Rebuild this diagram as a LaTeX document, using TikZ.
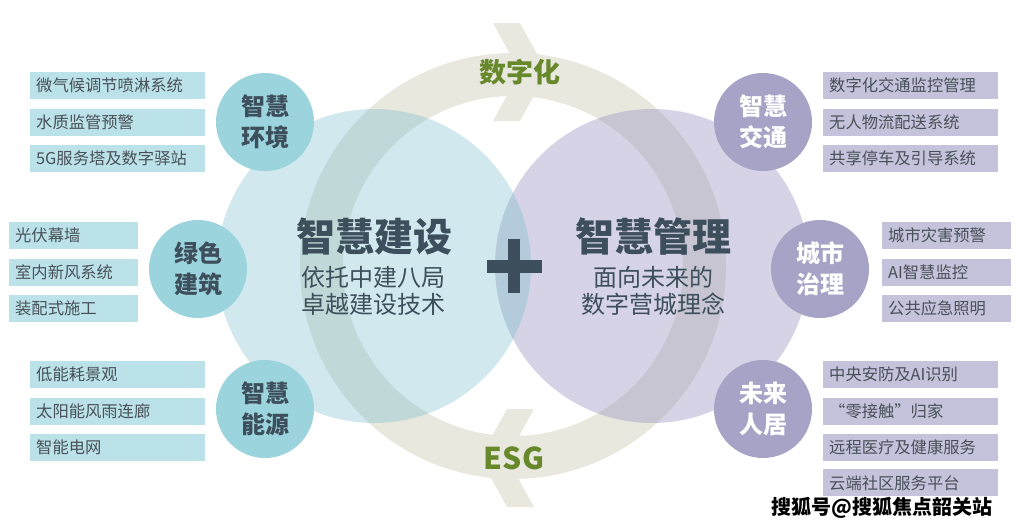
\documentclass[tikz,border=0pt]{standalone}
\usepackage{fontspec}
\setmainfont{Noto Sans CJK SC}
\usetikzlibrary{positioning}
\definecolor{ringbeige}{RGB}{232,232,222}
\definecolor{tealbig}{RGB}{120,190,205}
\definecolor{purplebig}{RGB}{150,145,190}
\definecolor{tealdot}{RGB}{156,212,222}
\definecolor{purpledot}{RGB}{166,163,198}
\definecolor{tealbox}{RGB}{187,226,232}
\definecolor{purplebox}{RGB}{197,195,219}
\definecolor{slate}{RGB}{61,79,92}
\definecolor{itemgray}{RGB}{72,80,88}
\definecolor{leafgreen}{RGB}{104,136,44}

\tikzset{
    topic/.style={circle, minimum size=98pt, inner sep=0pt, align=center,
        font=\fontsize{24}{31}\selectfont\bfseries},
    item/.style={anchor=north west, inner xsep=6pt, inner ysep=0pt, minimum height=27pt,
        align=left, text=itemgray, font=\fontsize{16.3}{18}\selectfont},
    longitem/.style={item, text width=163pt},
    shortitem/.style={item, text width=117pt}
}

\begin{document}
\begin{tikzpicture}[x=1pt, y=-1pt]
    \useasboundingbox (0,0) rectangle (1016,530);

    % cycle ring with two arrow heads
    \fill[ringbeige, even odd rule] (513,266) circle[radius=213] (513,266) circle[radius=170];
    \fill[ringbeige] (493,23) -- (520,23) -- (547,72) -- (520,121) -- (493,121) -- (520,72) -- cycle;
    \fill[ringbeige] (507,409) -- (534,409) -- (507,458) -- (534,507) -- (507,507) -- (480,458) -- cycle;

    % two big circles
    \fill[purplebig, fill opacity=0.4] (652,266) circle[radius=157];
    \fill[tealbig, fill opacity=0.35] (374,266) circle[radius=157];

    \node[text=leafgreen, font=\fontsize{27}{30}\selectfont\bfseries] (digital) at (520,72) {数字化};
    \node[text=leafgreen, font=\fontsize{30}{32}\selectfont\bfseries] (esg) at (514,458) {ESG};

    \node[text=slate, font=\fontsize{39}{44}\selectfont\bfseries] (build) at (374,237) {智慧建设};
    \node[text=slate, align=center, font=\fontsize{24}{27}\selectfont] (buildsub) at (373,291) {依托中建八局\\卓越建设技术};
    \node[text=slate, font=\fontsize{39}{44}\selectfont\bfseries] (manage) at (653,237) {智慧管理};
    \node[text=slate, align=center, font=\fontsize{24}{27}\selectfont] (managesub) at (653,291) {面向未来的\\数字营城理念};

    % plus
    \fill[slate] (487,260) rectangle (542,273);
    \fill[slate] (508,239) rectangle (520,293);

    % left topics
    \node[topic, fill=tealdot, text=slate] (env) at (265,122) {智慧\\环境};
    \node[topic, fill=tealdot, text=slate] (green) at (198,269) {绿色\\建筑};
    \node[topic, fill=tealdot, text=slate] (energy) at (265,409) {智慧\\能源};

    % right topics
    \node[topic, fill=purpledot, text=white] (traffic) at (763,122) {智慧\\交通};
    \node[topic, fill=purpledot, text=white] (govern) at (820,269) {城市\\治理};
    \node[topic, fill=purpledot, text=white] (living) at (763,409) {未来\\人居};

    % left items
    \node[longitem, fill=tealbox] (env1) at (30,72) {微气候调节喷淋系统};
    \node[longitem, fill=tealbox, below=9pt of env1] (env2) {水质监管预警};
    \node[longitem, fill=tealbox, below=9pt of env2] (env3) {5G服务塔及数字驿站};

    \node[shortitem, fill=tealbox] (green1) at (9,222) {光伏幕墙};
    \node[shortitem, fill=tealbox, below=9pt of green1] (green2) {室内新风系统};
    \node[shortitem, fill=tealbox, below=9pt of green2] (green3) {装配式施工};

    \node[longitem, fill=tealbox] (energy1) at (30,361) {低能耗景观};
    \node[longitem, fill=tealbox, below=9pt of energy1] (energy2) {太阳能风雨连廊};
    \node[longitem, fill=tealbox, below=9pt of energy2] (energy3) {智能电网};

    % right items
    \node[longitem, fill=purplebox] (traffic1) at (823,72) {数字化交通监控管理};
    \node[longitem, fill=purplebox, below=9pt of traffic1] (traffic2) {无人物流配送系统};
    \node[longitem, fill=purplebox, below=9pt of traffic2] (traffic3) {共享停车及引导系统};

    \node[shortitem, fill=purplebox] (govern1) at (882,222) {城市灾害预警};
    \node[shortitem, fill=purplebox, below=9pt of govern1] (govern2) {AI智慧监控};
    \node[shortitem, fill=purplebox, below=9pt of govern2] (govern3) {公共应急照明};

    \node[longitem, fill=purplebox] (living1) at (823,361) {中央安防及AI识别};
    \node[longitem, fill=purplebox, below=9pt of living1] (living2) {“零接触”归家};
    \node[longitem, fill=purplebox, below=9pt of living2] (living3) {远程医疗及健康服务};
    \node[longitem, fill=purplebox, below=8pt of living3] (living4) {云端社区服务平台};

    \node[font=\fontsize{20}{24}\selectfont\bfseries] (mark) at (882,508) {搜狐号@搜狐焦点韶关站};
\end{tikzpicture}
\end{document}
